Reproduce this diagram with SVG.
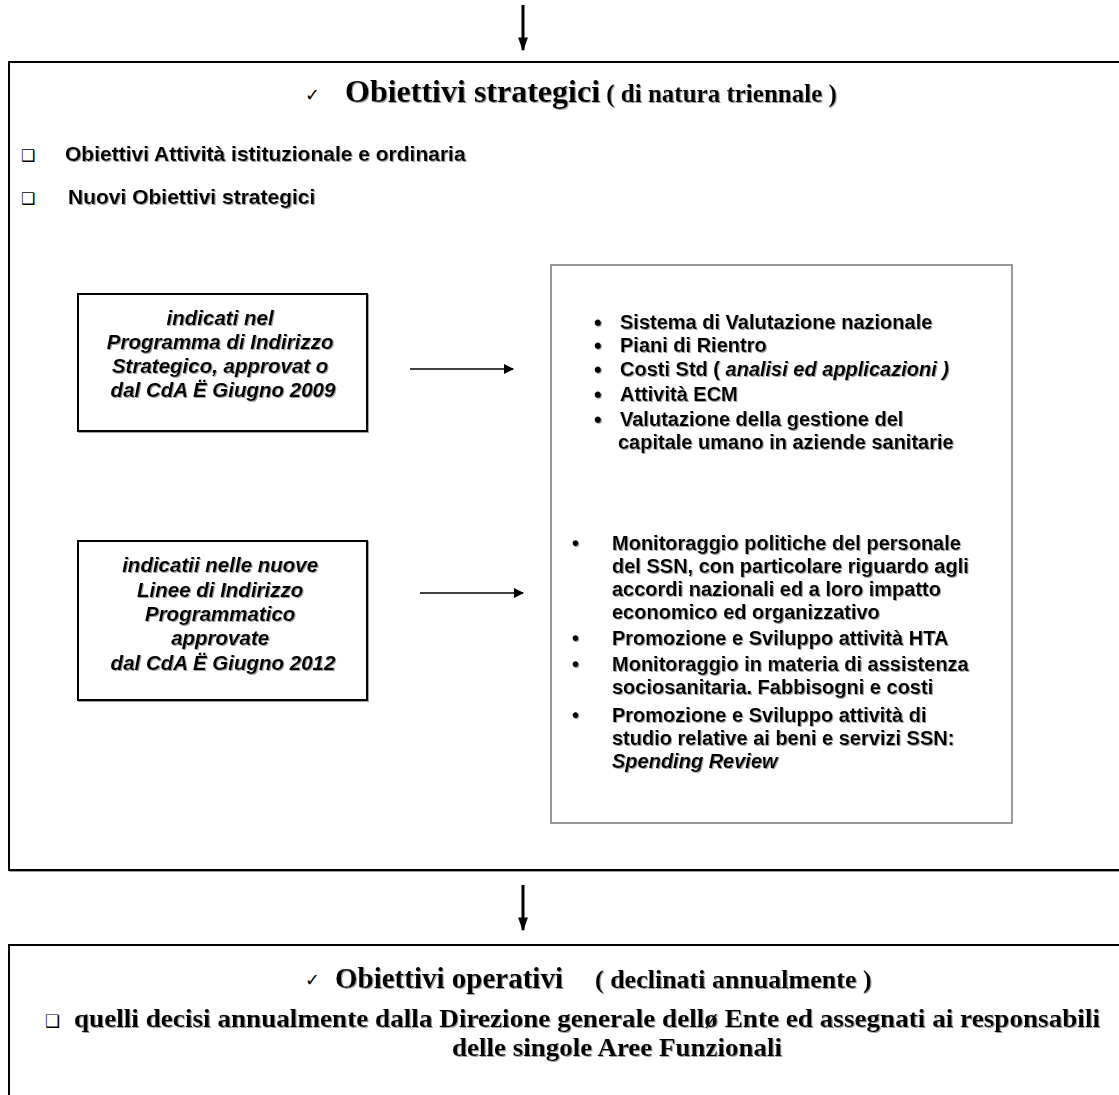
<svg xmlns="http://www.w3.org/2000/svg" width="1119" height="1095" viewBox="0 0 1119 1095">
<defs>
<filter id="sh" x="-5%" y="-20%" width="110%" height="140%">
<feDropShadow dx="1" dy="1" stdDeviation="0.4" flood-color="#888" flood-opacity="0.8"/>
</filter>
<marker id="ah" viewBox="0 0 10 10" refX="9" refY="5" markerWidth="10" markerHeight="10" markerUnits="userSpaceOnUse" orient="auto">
<path d="M0,0 L10,5 L0,10 Z" fill="#000"/>
</marker>
<marker id="ahBig" viewBox="0 0 10 10" refX="9" refY="5" markerWidth="14" markerHeight="14" markerUnits="userSpaceOnUse" orient="auto">
<path d="M0,1.5 L10,5 L0,8.5 Z" fill="#000"/>
</marker>
</defs>
<style>
.serifT{font-family:"Liberation Serif","Times New Roman",serif;font-weight:bold;fill:#000}
.sans{font-family:"Liberation Sans",Arial,sans-serif;font-weight:bold;fill:#000;font-size:20px}
.lbl{font-size:20.5px}
.chk{font-size:21px}
.it{font-style:italic}
.sym{font-family:"DejaVu Sans",sans-serif;fill:#000}
.bigbox{fill:#fff;stroke:#000;stroke-width:2}
.smallbox{fill:#fff;stroke:#000;stroke-width:2}
.listbox{fill:#fff;stroke:#777;stroke-width:1.5}
.conn{stroke:#000;stroke-width:1.5;fill:none}
.connBig{stroke:#000;stroke-width:3;fill:none}
.bul{font-size:22px}
</style>
<rect width="1119" height="1095" fill="#fff"/>

<g id="box-strategic">
<rect class="bigbox" x="9" y="62" width="1115" height="808" filter="url(#sh)"/>
<text class="sym" x="305" y="101" font-size="18">✓</text>
<text class="serifT" x="345" y="102" filter="url(#sh)"><tspan font-size="32">Obiettivi strategici</tspan><tspan font-size="25"> ( di natura triennale )</tspan></text>
<text class="sym" x="21" y="161" font-size="16">❑</text>
<text class="sans chk" x="65" y="161" filter="url(#sh)">Obiettivi Attività istituzionale e ordinaria</text>
<text class="sym" x="21" y="204" font-size="16">❑</text>
<text class="sans chk" x="68" y="204" filter="url(#sh)">Nuovi Obiettivi strategici</text>
</g>

<g id="box-left1">
<rect class="smallbox" x="78" y="294" width="289" height="137" filter="url(#sh)"/>
<text class="sans lbl it" text-anchor="middle" filter="url(#sh)">
<tspan x="223" y="325">indicati nel</tspan>
<tspan x="223" y="349">Programma di Indirizzo</tspan>
<tspan x="223" y="373">Strategico,  approvat o</tspan>
<tspan x="223" y="397">dal CdA Ë Giugno  2009</tspan>
</text>
</g>

<g id="box-left2">
<rect class="smallbox" x="78" y="541" width="289" height="159" filter="url(#sh)"/>
<text class="sans lbl it" text-anchor="middle" filter="url(#sh)">
<tspan x="223" y="572">indicatii nelle nuove</tspan>
<tspan x="223" y="597">Linee di Indirizzo</tspan>
<tspan x="223" y="621">Programmatico</tspan>
<tspan x="223" y="645">approvate</tspan>
<tspan x="223" y="670">dal CdA Ë Giugno 2012</tspan>
</text>
</g>

<g id="box-right">
<rect class="listbox" x="551" y="265" width="461" height="558"/>
<g class="sans" filter="url(#sh)">
<text class="bul" x="594" y="330">•</text><text x="620" y="329">Sistema di Valutazione nazionale</text>
<text class="bul" x="594" y="353">•</text><text x="620" y="352">Piani di Rientro</text>
<text class="bul" x="594" y="377">•</text><text x="620" y="376">Costi Std ( <tspan class="it">analisi ed applicazioni )</tspan></text>
<text class="bul" x="594" y="402">•</text><text x="620" y="401">Attività ECM</text>
<text class="bul" x="594" y="427">•</text><text x="620" y="426">Valutazione della gestione del</text>
<text x="618" y="449">capitale umano in aziende sanitarie</text>

<text x="572" y="550">•</text><text x="612" y="550">Monitoraggio politiche del personale</text>
<text x="612" y="573">del SSN, con particolare riguardo agli</text>
<text x="612" y="596">accordi nazionali ed a loro impatto</text>
<text x="612" y="619">economico ed organizzativo</text>
<text x="572" y="645">•</text><text x="612" y="645">Promozione e Sviluppo attività HTA</text>
<text x="572" y="671">•</text><text x="612" y="671">Monitoraggio in materia di assistenza</text>
<text x="612" y="694">sociosanitaria. Fabbisogni e costi</text>
<text x="572" y="722">•</text><text x="612" y="722">Promozione e Sviluppo attività di</text>
<text x="612" y="745">studio relative ai beni e servizi SSN:</text>
<text class="it" x="612" y="768">Spending Review</text>
</g>
</g>

<g id="box-operational">
<rect class="bigbox" x="9" y="945" width="1115" height="160" filter="url(#sh)"/>
<text class="sym" x="305" y="986" font-size="18">✓</text>
<text class="serifT" x="335" y="988" filter="url(#sh)"><tspan font-size="29">Obiettivi operativi</tspan><tspan font-size="26" x="595">( declinati annualmente )</tspan></text>
<text class="sym" x="45" y="1027" font-size="17">❑</text>
<text class="serifT" x="74" y="1027" font-size="25" textLength="1026" lengthAdjust="spacingAndGlyphs" filter="url(#sh)">quelli decisi annualmente dalla Direzione generale dellø Ente ed assegnati ai responsabili</text>
<text class="serifT" x="452" y="1056" font-size="25" textLength="330" lengthAdjust="spacingAndGlyphs" filter="url(#sh)">delle  singole Aree Funzionali</text>
</g>

<g id="connectors">
<line class="connBig" x1="523" y1="5" x2="523" y2="50" marker-end="url(#ahBig)"/>
<line class="conn" x1="410" y1="369" x2="513" y2="369" marker-end="url(#ah)"/>
<line class="conn" x1="420" y1="593" x2="523" y2="593" marker-end="url(#ah)"/>
<line class="connBig" x1="523" y1="885" x2="523" y2="930" marker-end="url(#ahBig)"/>
</g>
</svg>
